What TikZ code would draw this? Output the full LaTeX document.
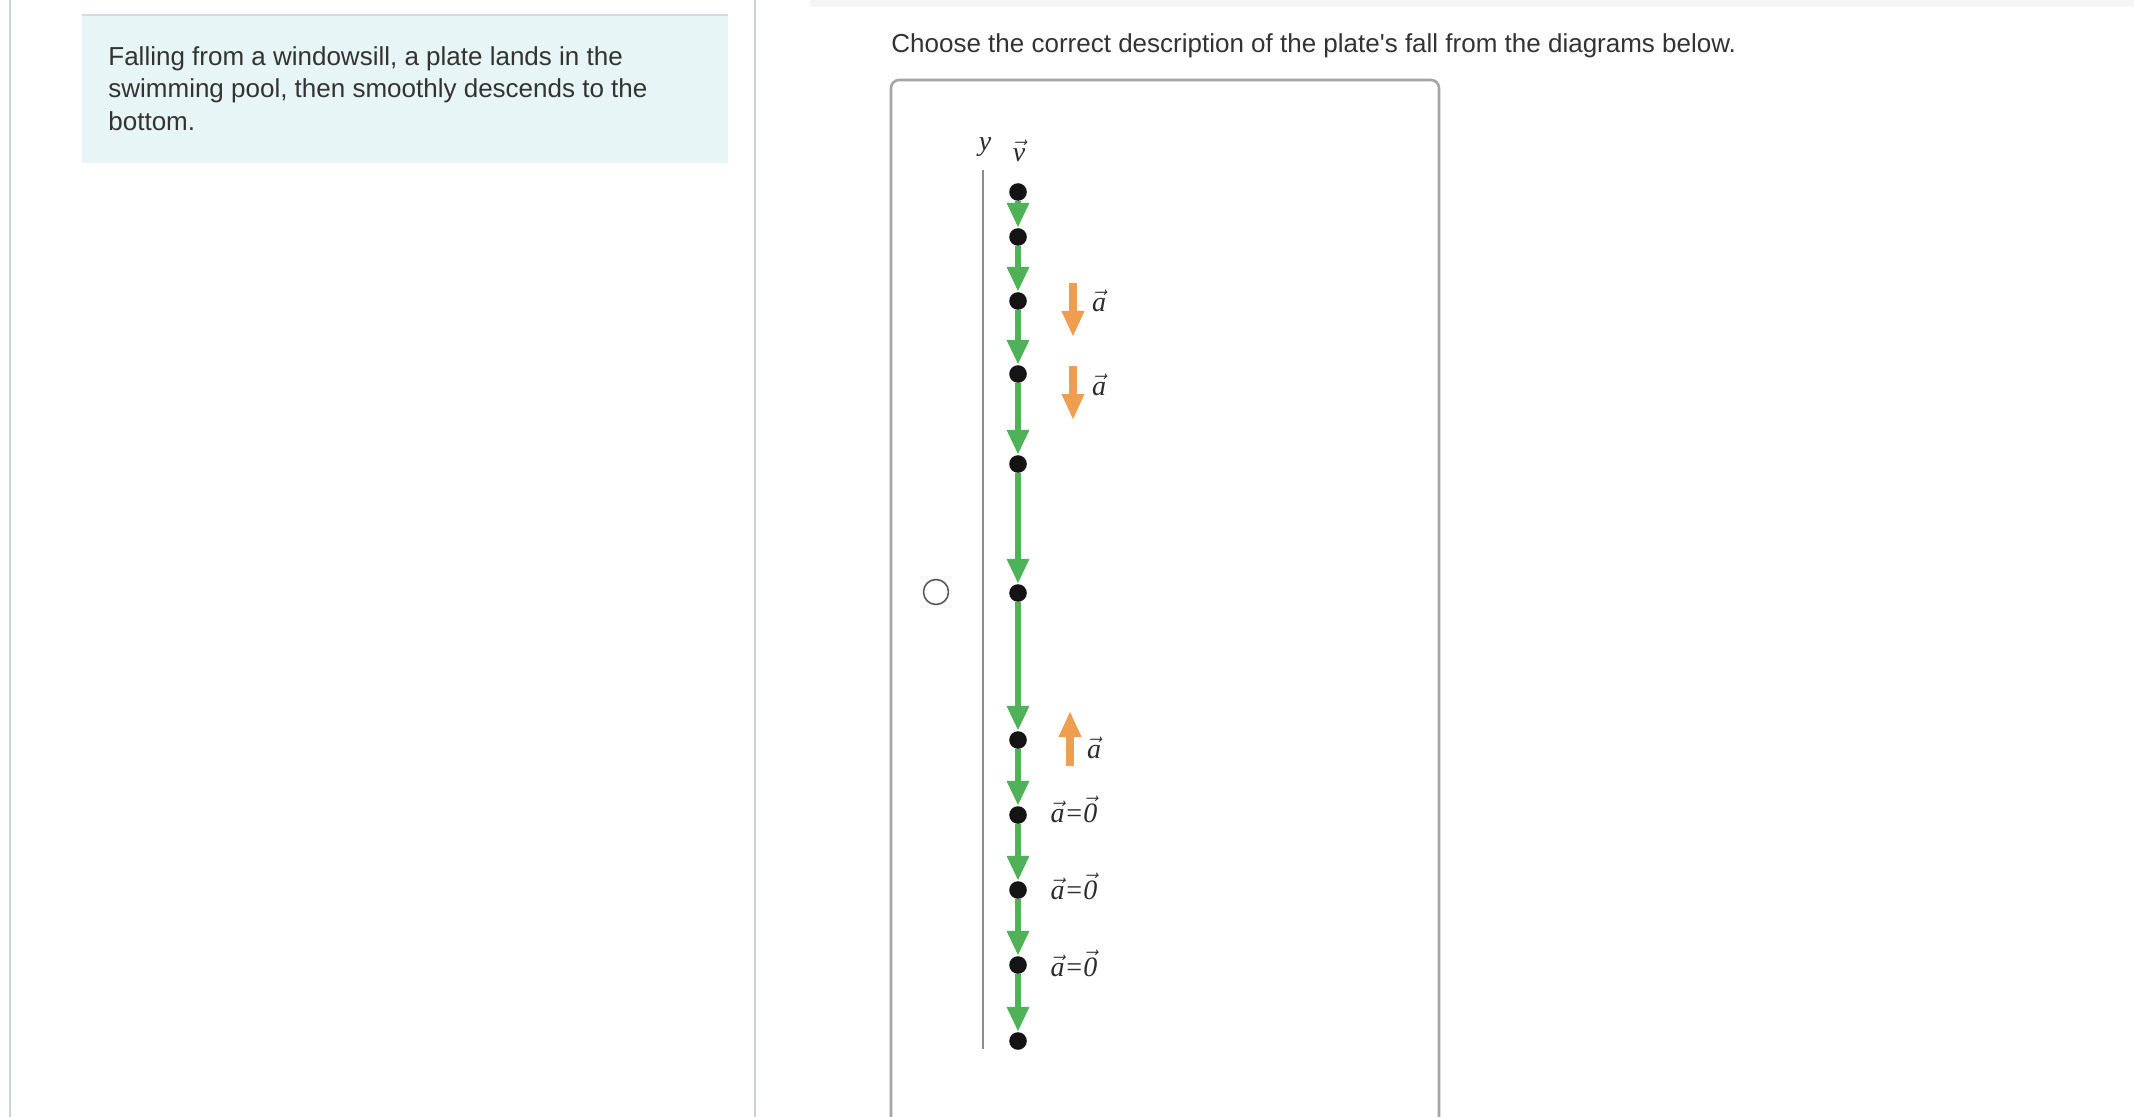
\documentclass[tikz,border=0pt]{standalone}
\usepackage{fontspec}
\setmainfont{Liberation Sans}[Ligatures=TeXOff]
\newfontfamily\serifit{Liberation Serif}[Ligatures=TeXOff]
\usetikzlibrary{arrows.meta}
\definecolor{txt}{HTML}{333333}
\definecolor{teal}{HTML}{E7F5F6}
\definecolor{tealtop}{HTML}{D5DADD}
\definecolor{sep}{HTML}{C6D2DE}
\definecolor{boxgray}{HTML}{A6A6A6}
\definecolor{topbar}{HTML}{F5F5F5}
\definecolor{grn}{HTML}{4FB258}
\definecolor{org}{HTML}{EE9E4E}
\definecolor{axisgray}{HTML}{8C8C8C}
\definecolor{dotc}{HTML}{141414}
\definecolor{lab}{HTML}{2C2C2C}
\newcommand\vlet[1]{\ensuremath{\vec{\hbox{\serifit\itshape #1}}}}
\tikzset{
  bodytext/.style={anchor=base west, inner sep=0pt, text=txt, font=\fontsize{13pt}{16pt}\selectfont},
  dotnode/.style={circle, fill=dotc, inner sep=0pt, minimum size=8.8pt},
  garrow/.style={draw=grn, line width=3.4pt, -{Triangle[width=10.5pt,length=12.5pt]}, color=grn},
  oarrow/.style={draw=org, line width=3.6pt, -{Triangle[width=10.5pt,length=13pt]}, color=org},
  mlabel/.style={inner sep=0pt, text=lab, font=\fontsize{14pt}{16pt}\selectfont\serifit\itshape},
}
\begin{document}
\begin{tikzpicture}[x=0.5pt,y=-0.5pt]
\useasboundingbox (0,0) rectangle (2134,1117);
\clip (0,0) rectangle (2134,1117);
\fill[white] (0,0) rectangle (2134,1117);
% top bar
\fill[topbar] (810,0) rectangle (2134,7);
% separators
\draw[sep, line width=1.2pt] (10,0) -- (10,1117);
\draw[sep, line width=1.2pt] (755,0) -- (755,1117);
% teal box
\fill[teal] (82,15) rectangle (728,163);
\draw[tealtop, line width=1.3pt] (82,15) -- (728,15);
\node[bodytext] (t1) at (108,66) {Falling from a windowsill, a plate lands in the};
\node[bodytext] (t2) at (108,98) {swimming pool, then smoothly descends to the};
\node[bodytext] (t3) at (108,131) {bottom.};
% question
\node[bodytext] (q) at (891,53) {Choose the correct description of the plate's fall from the diagrams below.};
% option box
\draw[boxgray, line width=1.3pt, rounded corners=4pt] (891,1140) -- (891,80) -- (1439,80) -- (1439,1140);
% radio
\node[circle, draw=black!65, line width=0.8pt, minimum size=12.5pt, inner sep=0pt] (radio) at (936,592) {};
% axis
\coordinate (axtop) at (983,170);
\coordinate (axbot) at (983,1049);
\draw[axisgray, line width=1pt] (axtop) -- (axbot);
\node[mlabel] (ylab) at (985,147) {y};
\node[mlabel] (vlab) at (1019,151) {\vlet{v}};
\node[mlabel] (ylab2) at (985,1127) {y};
% dots
\foreach \i/\yy in {1/192,2/237,3/301,4/374,5/464,6/593,7/740,8/815,9/890,10/965,11/1041}{
  \node[dotnode] (d\i) at (1018,\yy) {};
}
\foreach \i [evaluate=\i as \j using int(\i+1)] in {1,...,10}{
  \draw[garrow] (d\i) -- (d\j);
}
% orange arrows
\coordinate (o1s) at (1073,283); \coordinate (o1e) at (1073,337);
\coordinate (o2s) at (1073,366); \coordinate (o2e) at (1073,420);
\coordinate (o3s) at (1070,766); \coordinate (o3e) at (1070,711);
\draw[oarrow] (o1s) -- (o1e);
\draw[oarrow] (o2s) -- (o2e);
\draw[oarrow] (o3s) -- (o3e);
\node[mlabel] (a1) at (1099,301) {\vlet{a}};
\node[mlabel] (a2) at (1099,385) {\vlet{a}};
\node[mlabel] (a3) at (1094,748) {\vlet{a}};
\node[mlabel] (z1) at (1074,809) {\vlet{a}=\vlet{0}};
\node[mlabel] (z2) at (1074,886) {\vlet{a}=\vlet{0}};
\node[mlabel] (z3) at (1074,963) {\vlet{a}=\vlet{0}};
\end{tikzpicture}
\end{document}
